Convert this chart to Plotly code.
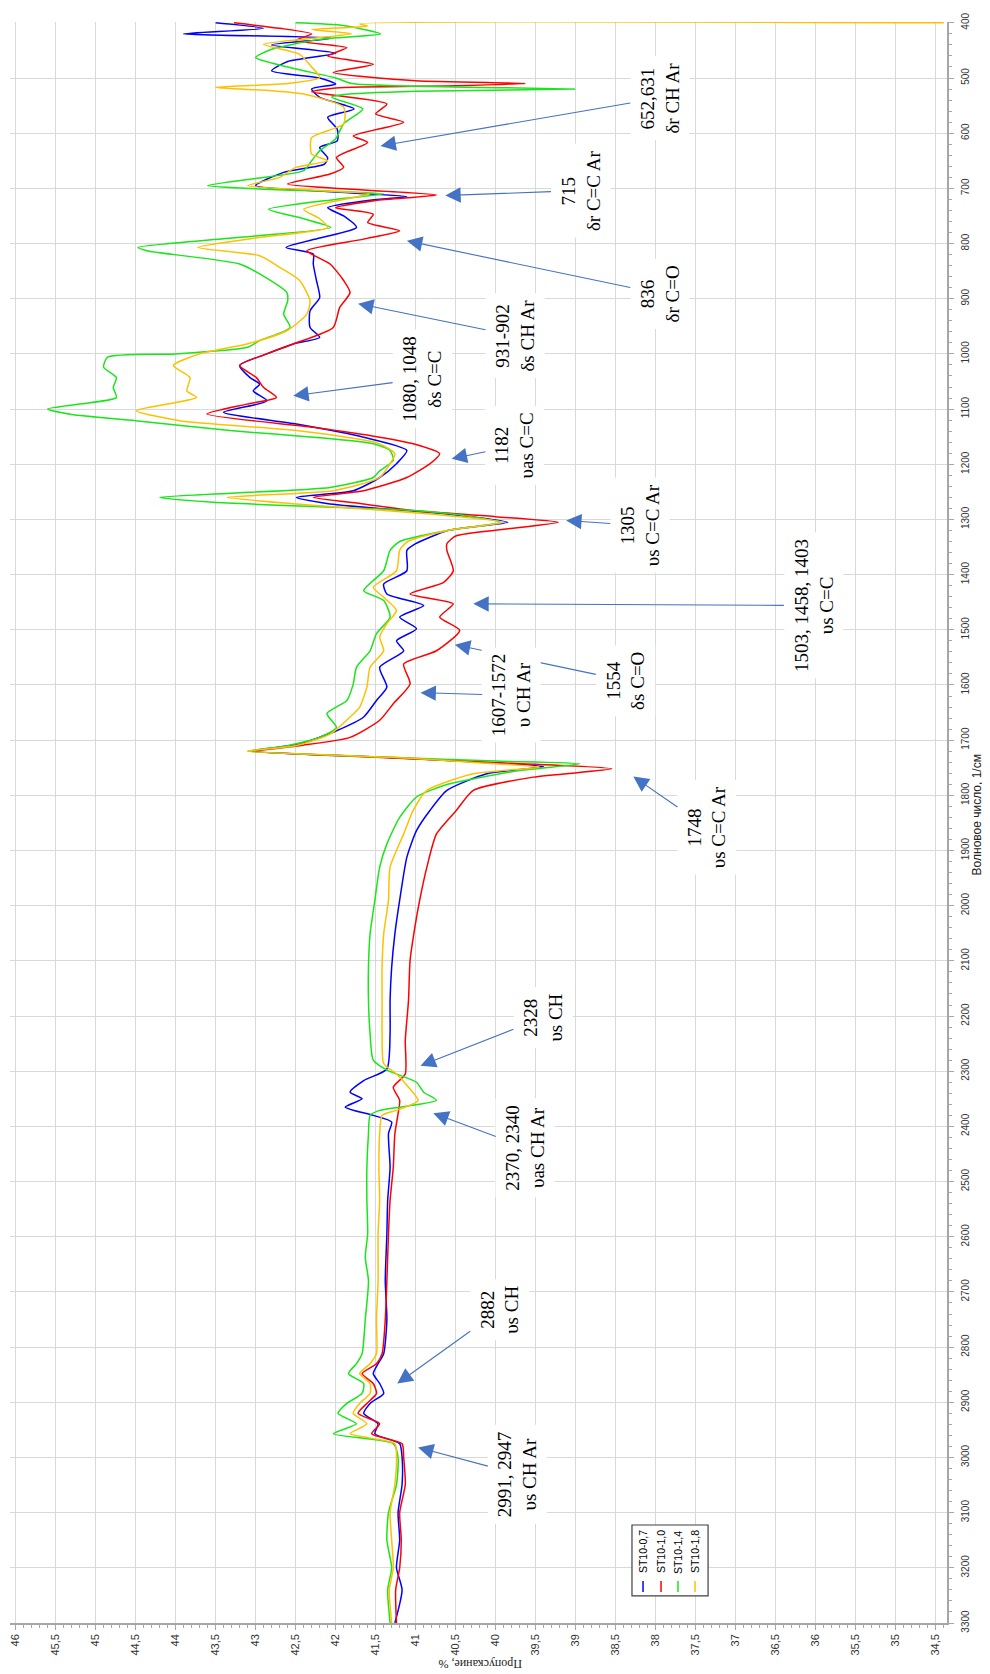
import plotly.graph_objects as go

# ST10-0,7 (blue): wavenumber, 1/cm and transmittance, %
WN_07 = [400, 410, 420, 428, 440, 455, 470, 487, 500, 511, 520, 535, 556, 571, 593, 614, 626, 645, 656,
         671, 695, 705, 715, 722, 735, 750, 771, 790, 807, 819, 837, 867, 898, 922, 952, 970, 982, 1000,
         1021, 1043, 1055, 1067, 1085, 1106, 1127, 1151, 1175, 1199, 1224, 1248, 1260, 1272, 1290, 1305,
         1320, 1344, 1356, 1393, 1417, 1435, 1456, 1477, 1498, 1520, 1538, 1568, 1604, 1628, 1658, 1683,
         1707, 1720, 1731, 1740, 1748, 1761, 1791, 1827, 1864, 1912, 1990, 2051, 2111, 2172, 2232, 2296,
         2317, 2338, 2350, 2365, 2380, 2392, 2413, 2474, 2534, 2594, 2680, 2750, 2812, 2830, 2848, 2866,
         2884, 2902, 2920, 2939, 2957, 2975, 3000, 3049, 3100, 3150, 3200, 3240, 3300]
T_07 = [43.5, 42.9, 43.9, 42.05, 42.8, 42.0, 42.6, 42.8, 42.2, 42.0, 42.3, 42.2, 41.77, 42.1, 41.98, 41.98,
        42.2, 42.1, 42.14, 42.65, 43.0, 42.2, 41.11, 41.6, 42.1, 41.9, 41.74, 42.2, 42.62, 42.28, 42.28,
        42.24, 42.2, 42.32, 42.32, 42.2, 42.53, 42.86, 43.2, 43.07, 42.95, 43.03, 42.86, 43.4, 42.49, 41.65,
        41.11, 41.24, 41.45, 41.78, 42.49, 42.07, 40.61, 39.85, 40.6, 41.0, 41.11, 41.11, 41.4, 41.36, 40.9,
        41.2, 40.99, 41.24, 41.15, 41.45, 41.36, 41.49, 41.65, 41.99, 42.45, 43.05, 41.4, 40.2, 39.4, 40.11,
        40.61, 40.82, 40.99, 41.11, 41.2, 41.26, 41.3, 41.32, 41.32, 41.36, 41.65, 41.82, 41.67, 41.88,
        41.53, 41.3, 41.34, 41.32, 41.35, 41.36, 41.38, 41.36, 41.4, 41.47, 41.53, 41.45, 41.4, 41.57,
        41.65, 41.47, 41.51, 41.2, 41.17, 41.17, 41.22, 41.2, 41.24, 41.17, 41.26]

# ST10-1,0 (red)
WN_10 = [400, 410, 420, 432, 445, 460, 475, 490, 505, 510, 514, 518, 525, 547, 565, 580, 605, 617, 644, 662,
         674, 692, 700, 712, 722, 735, 747, 762, 777, 792, 813, 837, 867, 889, 916, 952, 982, 1000, 1021,
         1043, 1061, 1079, 1091, 1109, 1133, 1151, 1163, 1181, 1199, 1224, 1248, 1260, 1272, 1284, 1295,
         1305, 1318, 1330, 1344, 1356, 1393, 1414, 1435, 1453, 1477, 1501, 1538, 1562, 1598, 1634, 1664,
         1695, 1710, 1720, 1731, 1742, 1752, 1767, 1791, 1827, 1870, 1930, 1990, 2039, 2099, 2172, 2244,
         2305, 2329, 2353, 2377, 2413, 2474, 2534, 2594, 2680, 2750, 2812, 2830, 2848, 2866, 2884, 2902,
         2920, 2939, 2957, 2975, 3000, 3049, 3100, 3150, 3200, 3240, 3300]
T_10 = [43.27, 42.7, 42.3, 42.5, 41.86, 42.1, 41.53, 42.03, 41.0, 39.63, 40.5, 42.0, 42.3, 41.36, 41.5,
        41.15, 41.78, 41.6, 41.99, 41.9, 42.07, 42.6, 42.0, 40.74, 41.5, 42.0, 41.53, 41.6, 41.2, 41.65,
        42.36, 42.07, 41.9, 41.82, 41.95, 42.03, 42.53, 42.86, 43.2, 42.99, 42.9, 42.74, 43.11, 43.61,
        42.28, 41.45, 41.03, 40.7, 40.82, 41.11, 41.65, 42.28, 41.65, 41.03, 40.0, 39.22, 39.9, 40.5,
        40.61, 40.61, 40.53, 40.65, 41.07, 40.53, 40.7, 40.45, 40.74, 41.15, 41.07, 41.28, 41.45, 41.82,
        42.45, 43.0, 41.5, 39.8, 38.55, 39.53, 40.28, 40.49, 40.74, 40.86, 40.95, 41.01, 41.07, 41.09,
        41.13, 41.13, 41.28, 41.2, 41.22, 41.26, 41.28, 41.32, 41.34, 41.36, 41.38, 41.42, 41.49, 41.67,
        41.53, 41.49, 41.61, 41.72, 41.45, 41.55, 41.17, 41.15, 41.13, 41.2, 41.18, 41.2, 41.25, 41.24]

# ST10-1,4 (green)
WN_14 = [400, 405, 420, 430, 448, 463, 480, 500, 510, 515, 520, 524, 530, 535, 556, 583, 610, 632, 650, 668,
         682, 695, 702, 710, 720, 738, 755, 771, 790, 807, 813, 837, 855, 889, 904, 928, 952, 976, 988,
         1000, 1006, 1024, 1043, 1061, 1079, 1091, 1100, 1110, 1121, 1139, 1151, 1163, 1175, 1193, 1212,
         1224, 1242, 1260, 1269, 1284, 1295, 1305, 1320, 1340, 1356, 1393, 1429, 1447, 1477, 1507, 1538,
         1568, 1598, 1628, 1652, 1677, 1695, 1710, 1720, 1731, 1738, 1743, 1755, 1780, 1803, 1840, 1888,
         1930, 1990, 2051, 2111, 2172, 2232, 2280, 2298, 2320, 2338, 2353, 2371, 2380, 2413, 2474, 2534,
         2594, 2637, 2680, 2750, 2812, 2830, 2848, 2866, 2884, 2902, 2920, 2939, 2957, 2975, 3000, 3049,
         3100, 3150, 3200, 3240, 3300]
T_14 = [42.5, 41.9, 41.44, 42.2, 42.8, 43.0, 42.6, 42.0, 41.8, 41.0, 39.01, 41.0, 41.9, 42.05, 41.66, 41.9,
        42.0, 42.2, 42.3, 42.4, 43.0, 43.6, 42.8, 41.4, 42.0, 42.84, 42.4, 42.06, 43.3, 44.47, 44.36, 43.2,
        42.95, 42.61, 42.6, 42.65, 42.57, 42.95, 43.1, 44.0, 44.85, 44.9, 44.74, 44.78, 44.74, 45.2, 45.6,
        45.3, 44.5, 43.32, 42.28, 41.53, 41.32, 41.28, 41.45, 41.53, 42.07, 44.2, 43.53, 41.03, 40.3, 39.95,
        40.6, 41.2, 41.32, 41.4, 41.65, 41.4, 41.32, 41.49, 41.57, 41.74, 41.78, 41.86, 42.11, 41.99, 42.2,
        42.6, 43.1, 41.3, 40.0, 38.95, 39.7, 40.6, 40.99, 41.2, 41.36, 41.45, 41.51, 41.57, 41.59, 41.59,
        41.57, 41.53, 41.36, 40.99, 40.9, 40.74, 41.45, 41.57, 41.59, 41.61, 41.61, 41.6, 41.63, 41.59,
        41.63, 41.67, 41.74, 41.84, 41.65, 41.67, 41.86, 41.97, 41.74, 42.03, 41.28, 41.22, 41.24, 41.34,
        41.36, 41.3, 41.35, 41.32]

# ST10-1,8 (yellow)
WN_18 = [400, 402, 406, 412, 420, 439, 457, 480, 499, 510, 517, 523, 529, 553, 583, 608, 638, 650, 662, 680,
         695, 703, 710, 720, 738, 755, 771, 790, 807, 822, 843, 867, 904, 928, 958, 982, 1000, 1021, 1043,
         1067, 1079, 1103, 1121, 1139, 1163, 1181, 1199, 1224, 1248, 1260, 1272, 1290, 1305, 1320, 1340,
         1356, 1393, 1423, 1441, 1465, 1489, 1513, 1538, 1568, 1604, 1640, 1658, 1689, 1710, 1720, 1731,
         1740, 1749, 1761, 1791, 1827, 1870, 1930, 1990, 2051, 2111, 2172, 2232, 2286, 2305, 2329, 2353,
         2371, 2380, 2413, 2474, 2534, 2594, 2680, 2750, 2812, 2830, 2848, 2866, 2884, 2902, 2920, 2939,
         2957, 2975, 3000, 3049, 3100, 3150, 3200, 3240, 3300]
T_18 = [34.4, 41.7, 41.6, 42.3, 41.8, 42.9, 42.45, 42.3, 42.2, 42.6, 43.5, 42.8, 42.4, 41.9, 41.9, 42.3,
        42.3, 42.1, 42.5, 42.7, 43.1, 42.3, 41.57, 41.9, 42.4, 42.2, 42.1, 43.0, 43.72, 42.95, 42.7, 42.45,
        42.32, 42.36, 42.61, 43.11, 43.7, 44.03, 43.82, 43.86, 43.74, 44.49, 43.95, 42.49, 41.45, 41.26,
        41.32, 41.45, 42.03, 43.36, 42.49, 40.82, 39.9, 40.6, 41.1, 41.2, 41.24, 41.53, 41.4, 41.24, 41.36,
        41.45, 41.4, 41.57, 41.61, 41.7, 41.82, 42.07, 42.5, 43.1, 41.3, 40.3, 39.45, 40.28, 40.86, 41.03,
        41.15, 41.32, 41.34, 41.4, 41.42, 41.42, 41.42, 41.4, 41.24, 41.09, 40.97, 41.24, 41.42, 41.45,
        41.46, 41.45, 41.47, 41.47, 41.49, 41.49, 41.57, 41.7, 41.57, 41.57, 41.7, 41.78, 41.61, 41.82,
        41.26, 41.24, 41.26, 41.32, 41.3, 41.28, 41.33, 41.3]

SERIES = ["ST10-0,7", "ST10-1,0", "ST10-1,4", "ST10-1,8"]
COLORS = ["#0000ff", "#ff0000", "#19e619", "#ffc000"]

T_TICKS = [46 - 0.5 * i for i in range(24)]
T_TICKTEXT = [("%g" % v).replace(".", ",") for v in T_TICKS]

# band assignments: label text, text position (T, wn), arrow tip (T, wn)
BANDS = [
    ("652,631<br>δr CH Ar", (37.95, 536), (41.44, 623)),
    ("715<br>δr C=C Ar", (38.94, 704), (40.63, 713)),
    ("836<br>δr C=O", (37.95, 891), (41.11, 795)),
    ("931-902<br>δs CH Ar", (39.76, 967), (41.72, 909)),
    ("1080, 1048<br>δs C=C", (40.92, 1045), (42.53, 1076)),
    ("1182<br>υas C=C", (39.76, 1166), (40.55, 1190)),
    ("1305<br>υs C=C Ar", (38.2, 1311), (39.12, 1302)),
    ("1503, 1458, 1403<br>υs C=C", (36.03, 1456), (40.28, 1453)),
    ("1554<br>δs C=O", (38.38, 1592), (40.51, 1527)),
    ("1607-1572<br>υ CH Ar", (39.8, 1619), (40.94, 1614)),
    ("1748<br>υs C=C Ar", (37.36, 1858), (38.28, 1766)),
    ("2328<br>υs CH", (39.41, 2203), (40.94, 2290)),
    ("2370, 2340<br>υas CH Ar", (39.63, 2438), (40.78, 2376)),
    ("2882<br>υs CH", (39.95, 2733), (41.23, 2866)),
    ("2991, 2947<br>υs CH Ar", (39.73, 3030), (40.97, 2982)),
]

NARROW = "Liberation Sans Narrow, Liberation Sans, sans-serif"

fig = go.Figure()
for name, wn, t, col in zip(SERIES, [WN_07, WN_10, WN_14, WN_18], [T_07, T_10, T_14, T_18], COLORS):
    fig.add_trace(go.Scatter(x=t, y=wn, mode="lines", name=name,
                             line=dict(color=col, width=1.5, shape="spline", smoothing=0.6)))

for text, (tx, ty), (hx, hy) in BANDS:
    fig.add_annotation(x=hx, y=hy, ax=tx, ay=ty, xref="x", yref="y", axref="x", ayref="y",
                       text=text, textangle=-90, showarrow=True, arrowhead=2, arrowsize=2.8,
                       arrowwidth=1.1, arrowcolor="#4472c4", bgcolor="white", borderpad=6,
                       font=dict(family="Liberation Serif, Times New Roman, serif", size=19, color="black"))

# axis titles (rotated, as in the scanned page)
fig.add_annotation(x=0.5016, y=-0.0256, xref="paper", yref="paper", text="Пропускание, %",
                   textangle=180, showarrow=False, xanchor="center", yanchor="middle",
                   font=dict(family="Liberation Serif, serif", size=12, color="#222"))
fig.add_annotation(x=1.033, y=0.505, xref="paper", yref="paper", text="Волновое число, 1/см",
                   textangle=-90, showarrow=False, xanchor="center", yanchor="middle",
                   font=dict(family=NARROW, size=12, color="#222"))

# hand-made legend box
lx = [0.6756, 0.6948, 0.7129, 0.7311]
fig.add_shape(type="rect", xref="paper", yref="paper", x0=0.6638, x1=0.745, y0=0.0169, y1=0.0612,
              line=dict(color="#404040", width=1.2), fillcolor="white")
for name, col, x in zip(SERIES, COLORS, lx):
    fig.add_annotation(x=x, y=0.0443, xref="paper", yref="paper", text=name, textangle=-90,
                       showarrow=False, xanchor="center", yanchor="middle",
                       font=dict(family=NARROW, size=10.5, color="black"))
    fig.add_shape(type="line", xref="paper", yref="paper", x0=x, x1=x, y0=0.0194, y1=0.0262,
                  line=dict(color=col, width=1.5))

# the page body adds an 8 px margin, so the figure is 8 px smaller than the window
fig.update_layout(
    width=982, height=1666,
    margin=dict(l=2, r=43, t=14, b=51),
    paper_bgcolor="white", plot_bgcolor="white",
    showlegend=False,
    xaxis=dict(range=[46.07, 34.36], tickvals=T_TICKS, ticktext=T_TICKTEXT, tickangle=-90,
               automargin=False,
               showgrid=True, gridcolor="#d9d9d9", gridwidth=1, zeroline=False,
               showline=True, linecolor="#a6a6a6", linewidth=1.5,
               ticks="outside", ticklen=5, tickcolor="#a6a6a6",
               minor=dict(dtick=0.1, ticks="outside", ticklen=3, tickcolor="#a6a6a6", showgrid=False),
               tickfont=dict(family=NARROW, size=11, color="#333")),
    yaxis=dict(range=[3300, 398.5], side="right", tick0=400, dtick=100, tickangle=-90,
               automargin=False, ticklabelstandoff=3,
               showgrid=True, gridcolor="#d9d9d9", gridwidth=1, zeroline=False,
               showline=True, linecolor="#a6a6a6", linewidth=1.5,
               ticks="outside", ticklen=5, tickcolor="#a6a6a6",
               minor=dict(dtick=20, ticks="outside", ticklen=3, tickcolor="#a6a6a6", showgrid=False),
               tickfont=dict(family=NARROW, size=10, color="#333")),
)

fig.write_html("out.html")
